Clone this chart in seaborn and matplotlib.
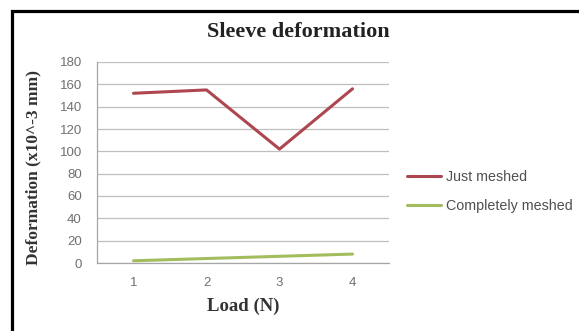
import matplotlib
matplotlib.use("Agg")
import matplotlib.pyplot as plt
from matplotlib.patches import Rectangle
import seaborn as sns
import pandas as pd

loads = [1, 2, 3, 4]
just_meshed = [152, 155, 102, 156]
completely_meshed = [2, 4, 6, 8]
series_names = ["Just meshed", "Completely meshed"]
y_ticks = [0, 20, 40, 60, 80, 100, 120, 140, 160, 180]

df = pd.DataFrame({
    "Load": loads * 2,
    "Deformation": just_meshed + completely_meshed,
    "Series": [series_names[0]] * len(loads) + [series_names[1]] * len(loads),
})

sns.set_theme(style="white")
plt.rcParams["font.family"] = ["Liberation Sans", "DejaVu Sans"]

fig = plt.figure(figsize=(5.79, 3.31), dpi=100)
ax = fig.add_axes([97 / 579, 1 - 263 / 331, (389 - 97) / 579, (263 - 62) / 331])

palette = {series_names[0]: "#AE4650", series_names[1]: "#A3BC5E"}
sns.lineplot(data=df, x="Load", y="Deformation", hue="Series", palette=palette,
             linewidth=2.2, ax=ax, legend=True, sort=False)

ax.set_xlim(0.5, 4.5)
ax.set_ylim(0, 180)
ax.set_yticks(y_ticks)
ax.set_xticks(loads)
ax.yaxis.grid(True, color="#BFBFBF", linewidth=0.9)
ax.set_axisbelow(True)
for side in ["top", "right"]:
    ax.spines[side].set_visible(False)
for side in ["left", "bottom"]:
    ax.spines[side].set_color("#A6A6A6")
    ax.spines[side].set_linewidth(0.9)
ax.tick_params(axis="both", colors="#A6A6A6", labelcolor="#707070", labelsize=9.5,
               length=3, width=0.8, direction="out")
ax.tick_params(axis="x", pad=7)
ax.tick_params(axis="y", pad=8)

ax.set_xlabel("Load (N)", fontfamily="Liberation Serif", fontweight="bold",
              fontsize=13.5, color="#333333", labelpad=6)
ax.set_ylabel("Deformation (x10^-3 mm)", fontfamily="Liberation Serif", fontweight="bold",
              fontsize=12.5, color="#333333")
ax.yaxis.set_label_coords(-0.19, 0.475)

fig.text(298 / 579, 1 - 32 / 331, "Sleeve deformation", ha="center", va="center",
         fontfamily="Liberation Serif", fontweight="bold", fontsize=16, color="#222222")

handles, labels = ax.get_legend_handles_labels()
ax.get_legend().remove()
leg = fig.legend(handles, labels, loc="center left", bbox_to_anchor=(394 / 579, 1 - 191.5 / 331),
                 frameon=False, fontsize=10.3, handlelength=2.4, handletextpad=0.3,
                 labelspacing=1.0, labelcolor="#505050")

fig.patches.append(Rectangle((11.5 / 579, 0 - 0.05), 1.2, 1 - 10.5 / 331 + 0.05,
                             transform=fig.transFigure, fill=False, edgecolor="black",
                             linewidth=2.3, figure=fig))

fig.savefig("out.png", dpi=100)
